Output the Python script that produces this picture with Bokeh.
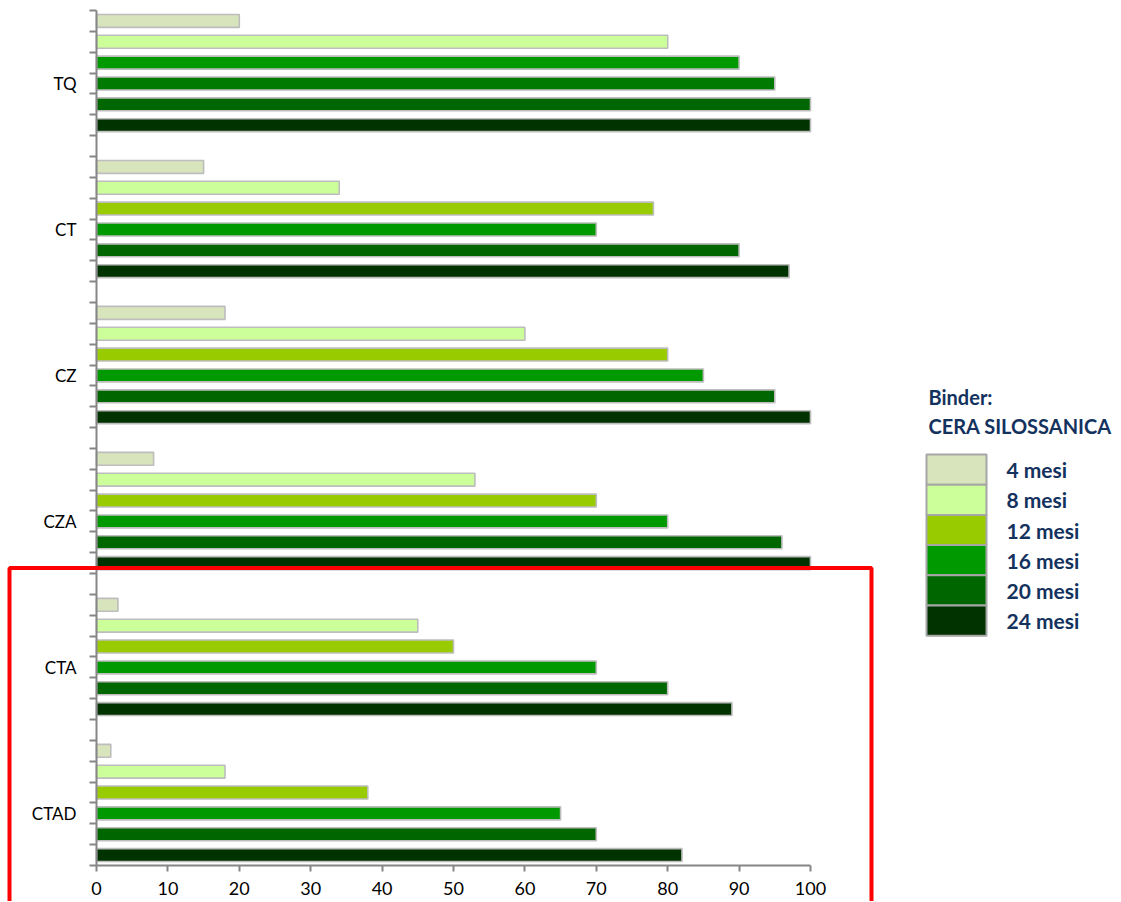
from bokeh.plotting import figure
from bokeh.models import (Range1d, FixedTicker, ColumnDataSource, Label, BoxAnnotation)
from bokeh.core.properties import value
from bokeh.embed import file_html
from bokeh.resources import INLINE

# ---------------- data ----------------
categories = ["TQ", "CT", "CZ", "CZA", "CTA", "CTAD"]
series = ["4 mesi", "8 mesi", "12 mesi", "16 mesi", "20 mesi", "24 mesi"]
series_colors = ["#D8E4BC", "#CCFF99", "#99CC00", "#009900", "#006600", "#003300"]
tq_colors = ["#D8E4BC", "#CCFF99", "#009900", "#007A00", "#006600", "#003300"]

v_4m = [20, 15, 18, 8, 3, 2]
v_8m = [80, 34, 60, 53, 45, 18]
v_12m = [90, 78, 80, 70, 50, 38]
v_16m = [95, 70, 85, 80, 70, 65]
v_20m = [100, 90, 95, 96, 80, 70]
v_24m = [100, 97, 100, 100, 89, 82]
values = [v_4m, v_8m, v_12m, v_16m, v_20m, v_24m]

x_ticks = [0, 10, 20, 30, 40, 50, 60, 70, 80, 90, 100]

legend_title = ["Binder:", "CERA SILOSSANICA"]

# ---------------- layout ----------------
W, H = 1115, 901
X0_PX, TOP_PX, BOTTOM_PX = 96, 10, 865      # canvas px of x=0, top and bottom of the axis area
PX_PER_UNIT = 7.14

n_groups = len(categories)
n_series = len(series)
slots_per_group = n_series + 1
n_slots = n_groups * slots_per_group - 1
slot_px = (BOTTOM_PX - TOP_PX) / n_slots

FONT = "Lato"
NAVY = "#14325E"
AXIS = "#868686"

x_range = Range1d(-X0_PX / PX_PER_UNIT, (W - X0_PX) / PX_PER_UNIT)
y_range = Range1d((H - TOP_PX) / slot_px, -TOP_PX / slot_px)   # reversed: slot 0 at top

p = figure(width=W, height=H, output_backend="svg", toolbar_location=None,
           x_range=x_range, y_range=y_range, min_border=0)
p.outline_line_color = None
p.xgrid.visible = False
p.ygrid.visible = False
p.background_fill_color = "white"
p.border_fill_color = "white"

for j, name in enumerate(series):
    ys = [g * slots_per_group + j + 0.5 for g in range(n_groups)]
    cols = [tq_colors[j] if g == 0 else series_colors[j] for g in range(n_groups)]
    src = ColumnDataSource(dict(y=ys, right=values[j], color=cols))
    p.hbar(y="y", right="right", left=0, height=0.62, source=src,
           fill_color="color", line_color="#BDBDBD", line_width=1.6)

# x axis (drawn at the bottom edge of the category area)
xa = p.xaxis[0]
xa.fixed_location = n_slots
xa.ticker = FixedTicker(ticks=x_ticks, minor_ticks=[])
xa.bounds = (0, 100)
xa.axis_line_color = AXIS
xa.axis_line_width = 2
xa.major_tick_line_color = AXIS
xa.major_tick_line_width = 2
xa.major_tick_out = 6
xa.major_tick_in = 0
xa.minor_tick_out = 0
xa.major_label_standoff = 10
xa.major_label_text_font = FONT
xa.major_label_text_font_size = "18px"
xa.major_label_text_color = "#000000"

# y axis (at x = 0)
ya = p.yaxis[0]
ya.fixed_location = 0
label_pos = [g * slots_per_group + 3.5 for g in range(n_groups)]
ya.ticker = FixedTicker(ticks=label_pos, minor_ticks=list(range(0, n_slots + 1)))
ya.major_label_overrides = {pos: cat for pos, cat in zip(label_pos, categories)}
ya.bounds = (0, n_slots)
ya.axis_line_color = AXIS
ya.axis_line_width = 2
ya.major_tick_out = 0
ya.major_tick_in = 0
ya.minor_tick_out = 7
ya.minor_tick_in = 0
ya.minor_tick_line_color = AXIS
ya.minor_tick_line_width = 2
ya.major_label_standoff = 13
ya.major_label_text_font = FONT
ya.major_label_text_font_size = "17px"
ya.major_label_text_color = "#000000"

def px_to_x(px):
    return (px - X0_PX) / PX_PER_UNIT

def py_to_y(py):
    return (py - TOP_PX) / slot_px

# legend (keys + labels)
LEG_TOP, LEG_PITCH = 454, 30.2
leg_y = [py_to_y(LEG_TOP + LEG_PITCH * (k + 0.5)) for k in range(n_series)]
leg_src = ColumnDataSource(dict(x=[px_to_x(956)] * n_series, y=leg_y,
                                lx=[px_to_x(1006)] * n_series,
                                color=series_colors, label=series))
p.rect(x="x", y="y", width=60 / PX_PER_UNIT, height=LEG_PITCH / slot_px,
       source=leg_src, fill_color="color", line_color="#A6A6A6", line_width=2)
p.text(x="lx", y="y", text="label", source=leg_src, text_font=value(FONT),
       text_font_style="bold", text_font_size="21px", text_color=NAVY,
       text_baseline="middle", text_align="left")

for txt, yc in zip(legend_title, [396, 425]):
    p.add_layout(Label(x=px_to_x(928), y=py_to_y(yc), text=txt, text_font=FONT,
                       text_font_style="bold", text_font_size="20px",
                       text_color=NAVY, text_baseline="middle", text_align="left"))

# red highlight box (canvas pixel units)
p.add_layout(BoxAnnotation(left=9, right=871, top=567.5, bottom=960,
                           left_units="canvas", right_units="canvas",
                           top_units="canvas", bottom_units="canvas",
                           level="overlay", fill_alpha=0, line_alpha=1.0,
                           line_color="#FF0000", line_width=4))

open("out.html", "w").write(file_html(p, INLINE))
